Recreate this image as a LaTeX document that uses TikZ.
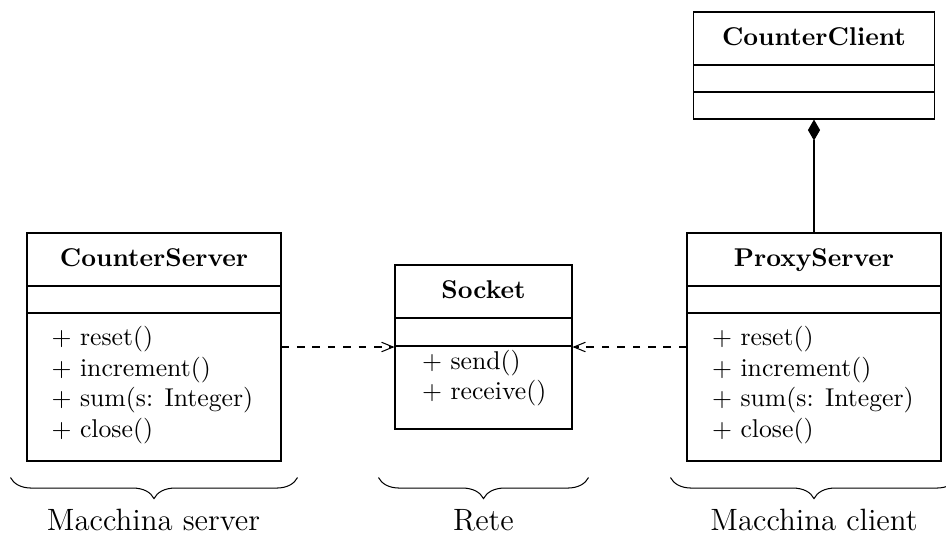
\documentclass[tikz,border=0pt]{standalone}
\usetikzlibrary{arrows.meta,decorations.pathreplacing,calc}
% one drawing unit
\newcommand\pxu{0.389pt}
\begin{document}
\begin{tikzpicture}[x=\pxu, y=-\pxu,
  classbox/.style={draw, line width=0.4pt, inner sep=0pt},
  ctitle/.style={font=\bfseries, anchor=base, inner sep=0pt},
  cmeth/.style={align=left, anchor=west, inner sep=0pt},
  usesarrow/.style={dashed, -{Straight Barb[length=4.5pt,width=3.7pt]}},
  partbrace/.style={decorate, decoration={brace, mirror, amplitude=8.2pt}},
  blabel/.style={font=\large, anchor=base, inner sep=0pt}]
\clip (0,0) rectangle (946,533);

% CounterServer
\node[classbox, minimum width=254*\pxu, minimum height=228*\pxu] (cs) at (154,347) {};
\draw (27,286) -- (281,286) (27,313) -- (281,313);
\node[ctitle] (cst) at (154,266) {CounterServer};
\node[cmeth] (csm) at (51,385) {$+$ reset()\\ $+$ increment()\\ $+$ sum(s: Integer)\\ $+$ close()};

% Socket
\node[classbox, minimum width=177*\pxu, minimum height=164*\pxu] (sock) at (483.5,347) {};
\draw (395,318) -- (572,318) (395,346) -- (572,346);
\node[ctitle] (sockt) at (483.5,298) {Socket};
\node[cmeth] (sockm) at (421.5,378) {$+$ send()\\ $+$ receive()};

% ProxyServer
\node[classbox, minimum width=254*\pxu, minimum height=228*\pxu] (ps) at (814,347) {};
\draw (687,286) -- (941,286) (687,313) -- (941,313);
\node[ctitle] (pst) at (814,266) {ProxyServer};
\node[cmeth] (psm) at (711.5,385) {$+$ reset()\\ $+$ increment()\\ $+$ sum(s: Integer)\\ $+$ close()};

% CounterClient
\node[classbox, minimum width=241*\pxu, minimum height=107*\pxu] (cc) at (814,65.5) {};
\draw (693.5,65) -- (934.5,65) (693.5,92) -- (934.5,92);
\node[ctitle] (cct) at (814,45) {CounterClient};

% relations
\draw[usesarrow] (cs.east) -- (sock.west);
\draw[usesarrow] (ps.west) -- (sock.east);
\draw[{Diamond[length=8.2pt,width=4.7pt]}-] (cc.south) -- (ps.north);

% deployment braces
\draw[partbrace] ($(cs.south west)+(-16,16)$) -- ($(cs.south east)+(16,16)$);
\draw[partbrace] ($(sock.south west)+(-16,48)$) -- ($(sock.south east)+(16,48)$);
\draw[partbrace] ($(ps.south west)+(-16,16)$) -- ($(ps.south east)+(16,16)$);
\node[blabel] (lserver) at (153.5,530) {Macchina server};
\node[blabel] (lrete) at (483.5,530) {Rete};
\node[blabel] (lclient) at (814,530) {Macchina client};
\end{tikzpicture}
\end{document}
